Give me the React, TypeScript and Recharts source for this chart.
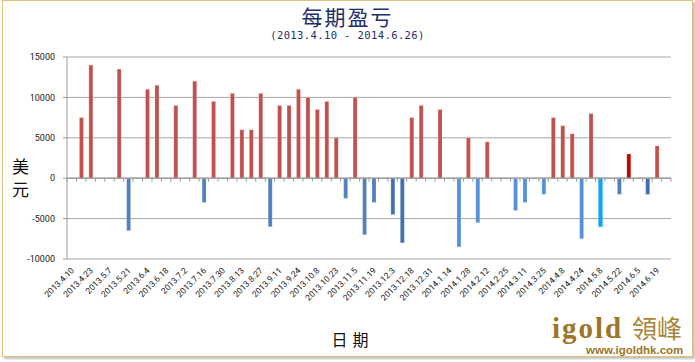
import React from "react";
import { BarChart, Bar, XAxis, YAxis, CartesianGrid, ReferenceLine, Cell } from "recharts";

const dates: string[] = [
  "2013.4.10", "2013.4.16", "2013.4.23", "2013.4.30", "2013.5.7", "2013.5.14", "2013.5.21", "2013.5.28",
  "2013.6.4", "2013.6.11", "2013.6.18", "2013.6.25", "2013.7.2", "2013.7.9", "2013.7.16", "2013.7.23",
  "2013.7.30", "2013.8.6", "2013.8.13", "2013.8.20", "2013.8.27", "2013.9.3", "2013.9.11", "2013.9.17",
  "2013.9.24", "2013.10.1", "2013.10.8", "2013.10.15", "2013.10.23", "2013.10.29", "2013.11.5", "2013.11.12",
  "2013.11.19", "2013.11.26", "2013.12.3", "2013.12.10", "2013.12.18", "2013.12.24", "2013.12.31", "2014.1.7",
  "2014.1.14", "2014.1.21", "2014.1.28", "2014.2.5", "2014.2.12", "2014.2.18", "2014.2.25", "2014.3.4",
  "2014.3.11", "2014.3.18", "2014.3.25", "2014.4.1", "2014.4.8", "2014.4.15", "2014.4.24", "2014.5.1",
  "2014.5.8", "2014.5.15", "2014.5.22", "2014.5.29", "2014.6.5", "2014.6.12", "2014.6.19", "2014.6.26",
];

const pnl: (number | null)[] = [
  null, 7500, 14000, null, null, 13500, -6500, null,
  11000, 11500, null, 9000, null, 12000, -3000, 9500,
  null, 10500, 6000, 6000, 10500, -6000, 9000, 9000,
  11000, 10000, 8500, 9500, 5000, -2500, 10000, -7000,
  -3000, null, -4500, -8000, 7500, 9000, null, 8500,
  null, -8500, 5000, -5500, 4500, null, null, -4000,
  -3000, null, -2000, 7500, 6500, 5500, -7500, 8000,
  -6000, null, -2000, 3000, null, -2000, 4000, null,
];

const yTicks: number[] = [-10000, -5000, 0, 5000, 10000, 15000];

const GAIN = "#C0504D";
const LOSS = "#4F81BD";
const specialColors: Record<string, string> = {
  "2014.5.8": "#2A9BE2",
  "2014.5.29": "#C00000",
  "2013.12.3": "#4170B0",
  "2013.12.10": "#4170B0",
  "2014.1.21": "#5590DB",
  "2014.2.5": "#5590DB",
  "2014.3.4": "#5590DB",
  "2014.3.11": "#5590DB",
  "2014.3.25": "#5590DB",
  "2014.4.24": "#5590DB",
  "2014.6.12": "#3F6CAC",
};

const data = dates.map((d, i) => ({ date: d, value: pnl[i] }));

const XTick = (props: any) => {
  const { x, y, payload } = props;
  const ax = x + 3;
  const ay = y + 12;
  return (
    <text
      x={ax}
      y={ay}
      transform={`rotate(-45, ${ax}, ${ay})`}
      textAnchor="end"
      fontSize={8.5}
      fontFamily="Roboto, 'Liberation Sans', sans-serif"
      fill="#222"
    >
      {payload.value}
    </text>
  );
};

const ZeroLine = (props: any) => {
  const { x1, y1, x2, y2 } = props;
  if (x1 == null) return <g />;
  const n = dates.length;
  const step = (x2 - x1) / n;
  const ticks = [];
  for (let i = 0; i <= n; i++) {
    const tx = x1 + i * step;
    ticks.push(<line key={i} x1={tx} y1={y1} x2={tx} y2={y1 + 3.5} stroke="#9a9a9a" strokeWidth={1} />);
  }
  return (
    <g>
      <line x1={x1} y1={y1} x2={x2} y2={y2} stroke="#9a9a9a" strokeWidth={1.2} />
      {ticks}
    </g>
  );
};

const cjk = "'Noto Sans CJK SC', sans-serif";

export default function App() {
  return (
    <div style={{ position: "absolute", left: 0, top: 0, width: 695, height: 362, background: "#fff" }}>
      <div
        style={{
          position: "absolute",
          left: 2,
          top: 0,
          width: 689,
          height: 355,
          border: "1px solid #E2C27A",
          boxShadow: "2px 2px 2px rgba(0,0,0,0.25)",
          background: "#fff",
        }}
      />
      <div style={{ position: "absolute", left: 0, top: 0 }}>
        <BarChart
          width={695}
          height={362}
          data={data}
          margin={{ top: 57, right: 24, bottom: 0, left: 0 }}
        >
          <CartesianGrid vertical={false} stroke="#a6a6a6" strokeWidth={1} />
          <XAxis
            dataKey="date"
            interval={1}
            axisLine={false}
            tickLine={false}
            tickSize={0}
            tickMargin={0}
            height={103}
            tick={<XTick />}
          />
          <YAxis
            type="number"
            domain={[-10000, 15000]}
            ticks={yTicks}
            width={67}
            axisLine={{ stroke: "#9a9a9a" }}
            tickLine={{ stroke: "#9a9a9a" }}
            tickSize={4}
            tickMargin={8}
            tick={{ fontSize: 9, fill: "#1a1a1a", fontFamily: "Roboto, 'Liberation Sans', sans-serif" }}
            allowDataOverflow
          />
          <Bar dataKey="value" barSize={4} isAnimationActive={false}>
            {data.map((d, i) => (
              <Cell
                key={i}
                fill={specialColors[d.date] ?? ((d.value ?? 0) >= 0 ? GAIN : LOSS)}
                stroke={specialColors[d.date] === "#2A9BE2" ? "#3FC8F5" : "rgba(255,255,255,0.35)"}
                strokeWidth={0.6}
              />
            ))}
          </Bar>
          <ReferenceLine y={0} shape={<ZeroLine />} />
        </BarChart>
      </div>
      <div
        style={{
          position: "absolute",
          left: 0,
          top: 5,
          width: 695,
          textAlign: "center",
          fontFamily: cjk,
          fontSize: 21,
          letterSpacing: 2,
          color: "#1F2E6C",
          lineHeight: "23px",
        }}
      >
        每期盈亏
      </div>
      <div
        style={{
          position: "absolute",
          left: 0,
          top: 30,
          width: 695,
          textAlign: "center",
          fontFamily: "'DejaVu Sans Mono', monospace",
          fontSize: 10.5,
          letterSpacing: 0.4,
          color: "#1F2E6C",
          lineHeight: "11px",
          whiteSpace: "pre",
        }}
      >
        (2013.4.10 - 2014.6.26)
      </div>
      <div
        style={{
          position: "absolute",
          left: 12,
          top: 157,
          fontFamily: cjk,
          fontSize: 17,
          lineHeight: "18px",
          color: "#111",
        }}
      >
        美
      </div>
      <div
        style={{
          position: "absolute",
          left: 12,
          top: 180,
          fontFamily: cjk,
          fontSize: 17,
          lineHeight: "18px",
          color: "#111",
        }}
      >
        元
      </div>
      <div
        style={{
          position: "absolute",
          left: 0,
          top: 329,
          width: 695,
          textAlign: "center",
          fontFamily: cjk,
          fontSize: 16,
          letterSpacing: 5,
          color: "#111",
          lineHeight: "20px",
          paddingLeft: 5,
        }}
      >
        日期
      </div>
      <div
        style={{
          position: "absolute",
          left: 552,
          top: 315,
          fontFamily: "'Liberation Serif', 'DejaVu Serif', serif",
          fontWeight: 900,
          fontSize: 29,
          lineHeight: "27px",
          color: "#9C7526",
          letterSpacing: 2,
        }}
      >
        igold
      </div>
      <div
        style={{
          position: "absolute",
          left: 632,
          top: 315,
          fontFamily: "'Noto Sans CJK TC', serif",
          fontSize: 25,
          lineHeight: "25px",
          color: "#A88537",
        }}
      >
        領峰
      </div>
      <div
        style={{
          position: "absolute",
          left: 586,
          top: 345,
          fontFamily: "'Liberation Sans', Arial, sans-serif",
          fontWeight: 700,
          fontSize: 11.5,
          lineHeight: "11px",
          color: "#9C7526",
        }}
      >
        www.igoldhk.com
      </div>
    </div>
  );
}
